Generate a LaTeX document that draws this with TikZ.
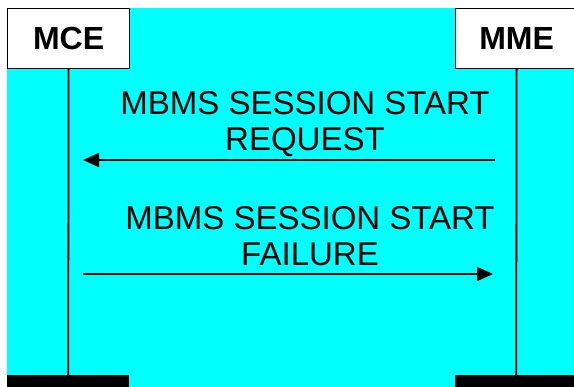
\documentclass[tikz,border=0pt]{standalone}
\usepackage{fontspec}
\setmainfont{Liberation Sans}
\usetikzlibrary{arrows.meta}
\definecolor{bgcyan}{RGB}{0,255,255}
\begin{document}
\begin{tikzpicture}[x=1pt,y=-1pt,
  ent/.style={draw=black, line width=1.2pt, fill=white, minimum width=122pt, minimum height=60pt, inner sep=0pt, font=\fontsize{32}{36}\selectfont\bfseries},
  bar/.style={fill=black, inner sep=0pt, minimum width=122pt, minimum height=12pt},
  life/.style={line width=1.8pt},
  msg/.style={line width=1.8pt, -{Triangle[length=16pt,width=14pt]}},
  lbl/.style={align=center, inner sep=0pt, font=\fontsize{33}{36}\selectfont}]
\useasboundingbox (0,0) rectangle (574,387);
\fill[bgcyan] (7,8) rectangle (580,387);
\node[ent, anchor=north west] (mce) at (7,8) {MCE};
\node[ent, anchor=north west] (mme) at (455,8) {MME};
\node[bar, anchor=north west] (mcebar) at (7,375) {};
\node[bar, anchor=north west] (mmebar) at (455,375) {};
\draw[life] (mce.south) -- (mcebar.north);
\draw[life] (mme.south) -- (mmebar.north);
\node[lbl, anchor=north] (l1) at (305,91.5) {MBMS SESSION START\\REQUEST};
\node[lbl, anchor=north] (l2) at (310,206.5) {MBMS SESSION START\\FAILURE};
\coordinate (a1s) at (495,160);
\coordinate (a1e) at (83,160);
\coordinate (a2s) at (83,274);
\coordinate (a2e) at (493,274);
\draw[msg] (a1s) -- (a1e);
\draw[msg] (a2s) -- (a2e);
\end{tikzpicture}
\end{document}
